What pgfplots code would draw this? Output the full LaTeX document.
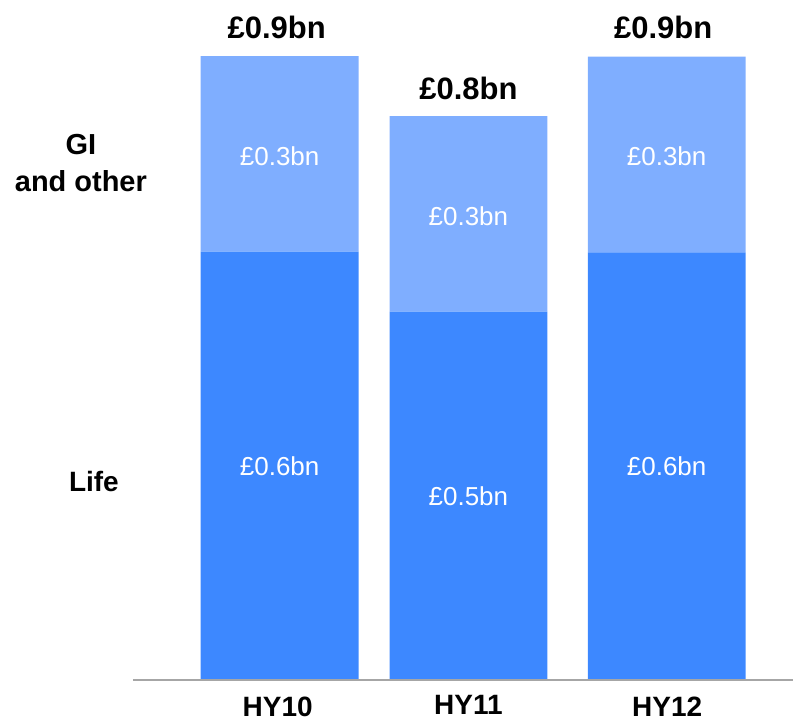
\documentclass[border=0pt]{standalone}
\usepackage{pgfplots}
\pgfplotsset{compat=1.18}
\usepackage{fontspec}
\setmainfont{Liberation Sans}
\definecolor{lifeblue}{HTML}{3D88FF}
\definecolor{giblue}{HTML}{7FAEFF}
\definecolor{axisgray}{HTML}{A6A6A6}
\begin{document}
\begin{tikzpicture}
\begin{axis}[
  scale only axis,
  width=794pt, height=723pt,
  xmin=0, xmax=794,
  ymin=-0.05874, ymax=0.95245,
  hide axis,
  clip=false,
  ybar stacked,
  bar width=158,
  xtick=\empty, ytick=\empty,
]
\addplot[fill=lifeblue, draw=none] coordinates {(280,0.600) (469,0.516) (667.5,0.599)};
\addplot[fill=giblue, draw=none] coordinates {(280,0.274) (469,0.274) (667.5,0.274)};
\path (axis cs:0,-0.05874) rectangle (axis cs:794,0.95245);
\coordinate (base1) at (axis cs:133,0);
\coordinate (base2) at (axis cs:794,0);
\coordinate (t1) at (axis cs:277,0.9147);
\coordinate (t2) at (axis cs:469,0.829);
\coordinate (t3) at (axis cs:664,0.914);
\coordinate (g1) at (axis cs:280,0.734);
\coordinate (l1) at (axis cs:280,0.299);
\coordinate (g2) at (axis cs:469,0.650);
\coordinate (l2) at (axis cs:469,0.257);
\coordinate (g3) at (axis cs:667.5,0.734);
\coordinate (l3) at (axis cs:667.5,0.299);
\coordinate (sg1) at (axis cs:81,0.750);
\coordinate (sg2) at (axis cs:81,0.699);
\coordinate (sl) at (axis cs:94,0.278);
\coordinate (c1) at (axis cs:278,-0.0378);
\coordinate (c2) at (axis cs:469,-0.0343);
\coordinate (c3) at (axis cs:668,-0.0378);
\end{axis}
\draw[axisgray, line width=2pt] (base1) -- (base2);
% totals
\node[font=\fontsize{31}{35}\selectfont\bfseries] at (t1) {£0.9bn};
\node[font=\fontsize{31}{35}\selectfont\bfseries] at (t2) {£0.8bn};
\node[font=\fontsize{31}{35}\selectfont\bfseries] at (t3) {£0.9bn};
% segment labels
\node[white, font=\fontsize{26}{30}\selectfont] at (g1) {£0.3bn};
\node[white, font=\fontsize{26}{30}\selectfont] at (l1) {£0.6bn};
\node[white, font=\fontsize{26}{30}\selectfont] at (g2) {£0.3bn};
\node[white, font=\fontsize{26}{30}\selectfont] at (l2) {£0.5bn};
\node[white, font=\fontsize{26}{30}\selectfont] at (g3) {£0.3bn};
\node[white, font=\fontsize{26}{30}\selectfont] at (l3) {£0.6bn};
% series labels
\node[font=\fontsize{29}{33}\selectfont\bfseries] at (sg1) {GI};
\node[font=\fontsize{29}{33}\selectfont\bfseries] at (sg2) {and other};
\node[font=\fontsize{28}{32}\selectfont\bfseries] at (sl) {Life};
% category labels
\node[inner sep=0pt, font=\fontsize{28}{32}\selectfont\bfseries] at (c1) {HY10};
\node[inner sep=0pt, font=\fontsize{28}{32}\selectfont\bfseries] at (c2) {HY11};
\node[inner sep=0pt, font=\fontsize{28}{32}\selectfont\bfseries] at (c3) {HY12};
\end{tikzpicture}
\end{document}
